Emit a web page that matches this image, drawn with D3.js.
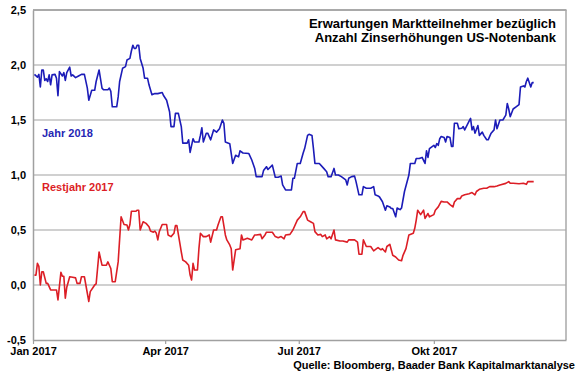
<!DOCTYPE html>
<html>
<head>
<meta charset="utf-8">
<script src="https://cdn.jsdelivr.net/npm/d3@7"></script>
<style>
  html, body { margin: 0; padding: 0; background: #fff; }
  svg { display: block; }
  text { font-family: "Liberation Sans", Arial, sans-serif; font-weight: bold; }
</style>
</head>
<body>
<svg id="chart" width="580" height="375"></svg>
<script>
// ---- Data (day offsets counted from 1 Jan 2017) ----
const startDate = "2017-01-01";

const tageJahr2018 = [1,3,4,5,6,7,8,9,10,11,12,13,15,16,17,18,20,21,22,23,25,26,27,29,31,33,35,37,38,40,42,43,45,47,48,51,52,53,54,57,58,59,61,63,64,66,67,68,69,70,71,72,73,75,76,78,79,81,83,85,88,89,91,93,94,96,97,99,101,102,105,106,107,109,110,113,114,115,116,118,119,121,123,125,127,129,130,131,134,136,138,140,141,143,147,149,151,152,156,157,159,160,163,165,167,169,170,172,176,177,178,180,182,184,185,187,188,190,191,192,195,198,200,201,203,205,206,208,210,213,214,215,217,219,220,222,224,225,227,230,232,233,235,236,238,240,241,243,244,245,247,248,250,251,253,256,257,260,261,263,265,267,268,269,270,273,274,275,276,277,278,280,281,282,284,285,286,287,289,290,292,293,294,297,298,299,300,301,303,304,306,307,309,310,312,314,315,316,318,320,322,323,324,325,327,329,331,332,334,335,336,337,339,340,341];
const jahr2018 = [1.915,1.89,1.915,1.80,1.955,1.955,1.86,1.875,1.85,1.91,1.82,1.91,1.915,1.88,1.72,1.94,1.90,1.93,1.86,1.93,1.98,1.90,1.91,1.885,1.90,1.915,1.915,1.79,1.68,1.77,1.77,1.85,1.955,1.79,1.775,1.775,1.79,1.76,1.62,1.62,1.71,1.85,1.97,1.985,2.045,2.06,2.127,2.18,2.15,2.15,2.18,2.18,2.06,1.97,1.88,1.88,1.82,1.73,1.74,1.74,1.75,1.72,1.68,1.575,1.44,1.44,1.56,1.56,1.44,1.29,1.29,1.32,1.206,1.33,1.30,1.30,1.36,1.43,1.30,1.38,1.38,1.32,1.41,1.39,1.42,1.50,1.47,1.30,1.285,1.105,1.18,1.165,1.22,1.20,1.195,1.136,1.06,0.985,0.985,1.04,1.075,1.05,1.09,0.98,0.98,0.99,0.91,0.864,0.864,0.97,0.97,1.105,1.105,1.20,1.24,1.36,1.37,1.36,1.24,1.105,1.105,1.06,1.03,0.985,0.985,1.06,1.00,1.00,0.985,0.955,0.91,0.97,0.985,0.99,0.94,0.82,0.82,0.894,0.88,0.88,0.894,0.82,0.81,0.80,0.757,0.68,0.72,0.71,0.695,0.695,0.62,0.70,0.685,0.70,0.85,1.00,1.105,1.105,1.15,1.15,1.16,1.105,1.22,1.16,1.24,1.27,1.25,1.285,1.27,1.33,1.35,1.34,1.30,1.35,1.34,1.26,1.26,1.47,1.47,1.42,1.425,1.44,1.41,1.49,1.515,1.41,1.44,1.38,1.45,1.36,1.39,1.36,1.32,1.32,1.38,1.41,1.50,1.42,1.50,1.50,1.545,1.65,1.60,1.53,1.60,1.62,1.64,1.80,1.81,1.80,1.85,1.88,1.80,1.84,1.84];

const tageRestjahr2017 = [1,2,3,4,5,6,7,9,10,12,14,16,17,18,19,20,21,22,23,25,27,29,30,32,33,35,37,38,39,41,42,43,45,47,48,50,51,53,54,56,58,60,62,64,65,66,67,70,71,72,73,75,77,79,80,82,83,84,85,86,88,91,92,94,96,97,98,100,101,102,104,106,107,108,109,110,112,113,114,116,118,120,121,123,125,126,128,129,131,132,134,135,136,138,141,142,143,146,149,151,152,155,156,158,159,163,165,167,169,171,172,175,177,180,182,184,185,187,189,191,192,194,196,197,199,200,202,203,205,206,209,211,214,215,217,219,221,222,224,225,227,230,232,234,235,237,238,240,241,243,245,247,249,251,252,254,256,259,260,261,262,264,266,267,269,270,273,274,276,278,280,282,284,286,287,289,291,292,294,297,299,301,302,304,307,309,311,314,316,318,322,324,325,327,331,334,336,337,340,341];
const restjahr2017 = [0.09,0.09,0.197,0.17,0.0,0.12,0.12,0.015,0.015,-0.045,-0.045,-0.045,-0.136,-0.01,0.115,0.08,0.08,-0.12,-0.02,0.075,0.07,0.065,0.015,0.015,0.075,0.075,-0.075,-0.15,-0.06,-0.02,0.0,0.01,0.30,0.18,0.18,0.18,0.21,0.15,0.03,0.03,0.21,0.62,0.55,0.545,0.50,0.55,0.67,0.67,0.68,0.68,0.50,0.575,0.56,0.53,0.49,0.48,0.49,0.47,0.41,0.485,0.55,0.55,0.455,0.44,0.47,0.54,0.54,0.38,0.30,0.227,0.21,0.18,0.09,0.045,0.197,0.136,0.136,0.33,0.47,0.44,0.44,0.455,0.39,0.50,0.50,0.545,0.62,0.62,0.455,0.41,0.364,0.33,0.136,0.32,0.33,0.455,0.41,0.425,0.41,0.455,0.455,0.46,0.42,0.455,0.48,0.48,0.44,0.43,0.44,0.42,0.455,0.46,0.50,0.59,0.62,0.667,0.667,0.59,0.575,0.56,0.485,0.455,0.46,0.44,0.455,0.42,0.44,0.42,0.50,0.41,0.40,0.40,0.39,0.41,0.41,0.41,0.39,0.28,0.28,0.41,0.35,0.35,0.31,0.33,0.34,0.32,0.33,0.30,0.35,0.37,0.27,0.255,0.227,0.22,0.27,0.33,0.455,0.47,0.515,0.59,0.68,0.64,0.68,0.606,0.65,0.62,0.64,0.68,0.71,0.76,0.755,0.755,0.73,0.71,0.755,0.785,0.785,0.81,0.82,0.83,0.84,0.82,0.85,0.87,0.88,0.88,0.894,0.894,0.90,0.91,0.924,0.94,0.925,0.925,0.92,0.925,0.915,0.94,0.94,0.94];

const yTicks = [-0.5, 0, 0.5, 1.0, 1.5, 2.0, 2.5];
const yTickLabels = ["-0,5", "0,0", "0,5", "1,0", "1,5", "2,0", "2,5"];
const xTicks = ["2017-01-01", "2017-04-01", "2017-07-01", "2017-10-01"];
const xTickLabels = ["Jan 2017", "Apr 2017", "Jul 2017", "Okt 2017"];
const xDomain = ["2017-01-01", "2017-12-30"];

const titleLines = ["Erwartungen Marktteilnehmer bezüglich", "Anzahl Zinserhöhungen US-Notenbank"];
const seriesNames = ["Jahr 2018", "Restjahr 2017"];
const sourceText = "Quelle: Bloomberg, Baader Bank Kapitalmarktanalyse";

// ---- Drawing ----
const parse = d3.timeParse("%Y-%m-%d");
const t0 = parse(startDate);
const toDate = n => d3.timeDay.offset(t0, n);

const svg = d3.select("#chart");
const mLeft = 33, mRight = 566, mTop = 10, mBottom = 340;

const x = d3.scaleTime().domain(xDomain.map(parse)).range([mLeft, mRight]);
const y = d3.scaleLinear().domain([-0.5, 2.5]).range([mBottom, mTop]);

// gridlines
svg.append("g").selectAll("line")
  .data(yTicks.filter(v => v > -0.5 && v < 2.5))
  .join("line")
  .attr("x1", mLeft).attr("x2", mRight)
  .attr("y1", d => y(d)).attr("y2", d => y(d))
  .attr("stroke", "#c0c0c0").attr("stroke-width", 1.3);

// plot border top & right
svg.append("line").attr("x1", mLeft).attr("x2", mRight + 0.5).attr("y1", y(2.5)).attr("y2", y(2.5))
  .attr("stroke", "#8c8c8c").attr("stroke-width", 1.3);
svg.append("line").attr("x1", mRight).attr("x2", mRight).attr("y1", y(2.5)).attr("y2", y(-0.5))
  .attr("stroke", "#a8a8a8").attr("stroke-width", 1.5);

// y axis
const yAxis = d3.axisLeft(y).tickValues(yTicks)
  .tickFormat((d, i) => yTickLabels[i]).tickSize(0).tickPadding(7);
const gy = svg.append("g").attr("transform", `translate(${mLeft},0)`).call(yAxis);
gy.select(".domain").attr("stroke", "#a0a0a0").attr("stroke-width", 1.5);
gy.selectAll("text").attr("font-size", 11).attr("fill", "#000")
  .attr("font-family", "'Liberation Sans', Arial, sans-serif").attr("font-weight", "bold");

// x axis
const xAxis = d3.axisBottom(x).tickValues(xTicks.map(parse))
  .tickFormat((d, i) => xTickLabels[i]).tickSize(4).tickSizeOuter(0).tickPadding(3);
const gx = svg.append("g").attr("transform", `translate(0,${mBottom})`).call(xAxis);
gx.select(".domain").attr("stroke", "#a0a0a0").attr("stroke-width", 1.5);
gx.selectAll(".tick line").attr("stroke", "#a0a0a0").attr("stroke-width", 1.2);
gx.selectAll("text").attr("font-size", 11).attr("fill", "#000")
  .attr("font-family", "'Liberation Sans', Arial, sans-serif").attr("font-weight", "bold");

// lines
const line = d3.line().x(d => x(d[0])).y(d => y(d[1]));
const blueData = tageJahr2018.map((n, i) => [toDate(n), jahr2018[i]]);
const redData = tageRestjahr2017.map((n, i) => [toDate(n), restjahr2017[i]]);

svg.append("path").datum(redData).attr("d", line)
  .attr("fill", "none").attr("stroke", "#dc1e26").attr("stroke-width", 1.6).attr("stroke-linejoin", "round");
svg.append("path").datum(blueData).attr("d", line)
  .attr("fill", "none").attr("stroke", "#1c1cb8").attr("stroke-width", 1.6).attr("stroke-linejoin", "round");

// series labels
svg.append("text").attr("x", 42).attr("y", 137).attr("font-size", 11).attr("fill", "#2626b4").text(seriesNames[0]);
svg.append("text").attr("x", 42).attr("y", 191).attr("font-size", 11).attr("fill", "#dc1e26").text(seriesNames[1]);

// title
svg.append("g").selectAll("text").data(titleLines).join("text")
  .attr("x", 556).attr("y", (d, i) => 28 + i * 13.5)
  .attr("text-anchor", "end").attr("font-size", 13).attr("fill", "#000")
  .text(d => d);

// source
svg.append("text").attr("x", 575).attr("y", 369).attr("text-anchor", "end")
  .attr("font-size", 11).attr("fill", "#000").text(sourceText);
</script>
</body>
</html>
